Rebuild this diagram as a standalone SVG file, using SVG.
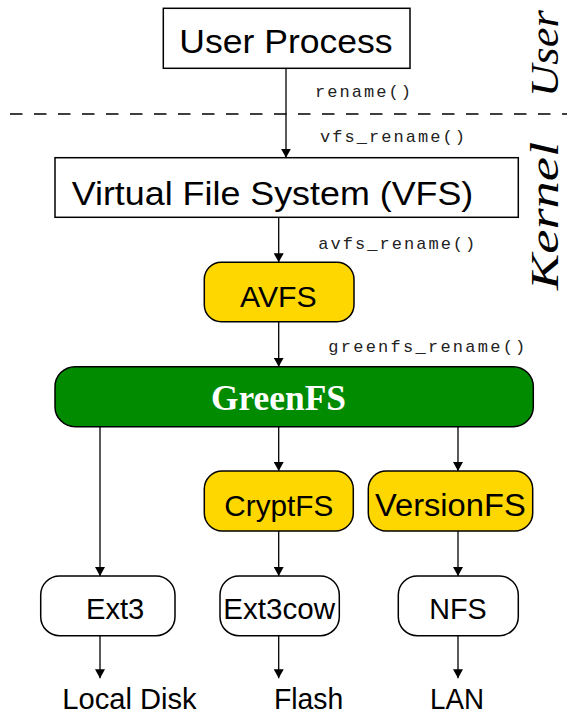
<svg xmlns="http://www.w3.org/2000/svg" width="567" height="715" viewBox="0 0 567 715">
<style>
.box{stroke:#000;stroke-width:1.5}
.plain{fill:#fff}
.gold{fill:#FFD700}
.green{fill:#008B00}
.lbl{font-family:"Liberation Sans",Arial,sans-serif;fill:#000}
.mono{font-family:"Liberation Mono","Courier New",monospace;font-size:17px;fill:#222}
.side{font-family:"Liberation Serif","Times New Roman",serif;font-style:italic;font-size:40px;fill:#000}
.edge{stroke:#000;stroke-width:1.3;fill:none;marker-end:url(#arr)}
</style>
<defs>
<marker id="arr" markerUnits="userSpaceOnUse" markerWidth="10" markerHeight="10" refX="9" refY="5" orient="auto">
<path d="M0,0 L9,5 L0,10 z" fill="#000"/>
</marker>
</defs>
<rect width="567" height="715" fill="#fff"/>
<line x1="0" y1="114" x2="567" y2="114" stroke="#000" stroke-width="1.3" stroke-dasharray="12.5 11.5" stroke-dashoffset="14"/>
<g id="side-labels">
<text class="side" transform="translate(558,97) rotate(-90)" textLength="87" lengthAdjust="spacingAndGlyphs">User</text>
<text class="side" transform="translate(558,290) rotate(-90)" textLength="148" lengthAdjust="spacingAndGlyphs">Kernel</text>
</g>
<g id="connectors">
<line class="edge" x1="286" y1="68.3" x2="286" y2="157.7"/>
<line class="edge" x1="278.7" y1="217.3" x2="278.7" y2="262.3"/>
<line class="edge" x1="278.7" y1="321.7" x2="278.7" y2="366.7"/>
<line class="edge" x1="100" y1="426.7" x2="100" y2="576"/>
<line class="edge" x1="278.7" y1="426.7" x2="278.7" y2="471"/>
<line class="edge" x1="458" y1="426.7" x2="458" y2="471"/>
<line class="edge" x1="278.7" y1="531" x2="278.7" y2="576"/>
<line class="edge" x1="458" y1="531" x2="458" y2="576"/>
<line class="edge" x1="100" y1="635.7" x2="100" y2="678.3"/>
<line class="edge" x1="278.7" y1="635.7" x2="278.7" y2="678.3"/>
<line class="edge" x1="458" y1="635.7" x2="458" y2="678.3"/>
<text class="mono" x="315" y="97" textLength="96" lengthAdjust="spacing">rename()</text>
<text class="mono" x="320" y="141.5" textLength="145" lengthAdjust="spacing">vfs_rename()</text>
<text class="mono" x="318.3" y="248.5" textLength="157" lengthAdjust="spacing">avfs_rename()</text>
<text class="mono" x="328.3" y="351.7" textLength="197" lengthAdjust="spacing">greenfs_rename()</text>
</g>
<g id="user-process">
<rect class="box plain" x="163.3" y="8.3" width="246.7" height="60"/>
<text class="lbl" x="179.3" y="53.3" font-size="33" textLength="213.3" lengthAdjust="spacingAndGlyphs">User Process</text>
</g>
<g id="vfs">
<rect class="box plain" x="55" y="157.7" width="463.3" height="59.6"/>
<text class="lbl" x="71.7" y="205" font-size="33" textLength="401.6" lengthAdjust="spacingAndGlyphs">Virtual File System (VFS)</text>
</g>
<g id="avfs">
<rect class="box gold" x="204.3" y="262.3" width="149.7" height="59.4" rx="17" ry="17"/>
<text class="lbl" x="240" y="306.7" font-size="30" textLength="76.7" lengthAdjust="spacingAndGlyphs">AVFS</text>
</g>
<g id="greenfs">
<rect class="box green" x="55" y="366.7" width="478.3" height="60" rx="20" ry="20"/>
<text x="211" y="410" font-family="'Liberation Serif','Times New Roman',serif" font-weight="bold" font-size="35" fill="#fff" textLength="135" lengthAdjust="spacingAndGlyphs">GreenFS</text>
</g>
<g id="cryptfs">
<rect class="box gold" x="204.3" y="471" width="149" height="60" rx="18" ry="18"/>
<text class="lbl" x="224.3" y="515.7" font-size="30" textLength="109" lengthAdjust="spacingAndGlyphs">CryptFS</text>
</g>
<g id="versionfs">
<rect class="box gold" x="368.3" y="471" width="164.4" height="60" rx="18" ry="18"/>
<text class="lbl" x="375" y="515.7" font-size="31" textLength="150.7" lengthAdjust="spacingAndGlyphs">VersionFS</text>
</g>
<g id="ext3">
<rect class="box plain" x="40.7" y="576" width="134.3" height="59.7" rx="19" ry="19"/>
<text class="lbl" x="86" y="619.3" font-size="29.5" textLength="58.3" lengthAdjust="spacingAndGlyphs">Ext3</text>
</g>
<g id="ext3cow">
<rect class="box plain" x="220" y="576" width="119.3" height="59.7" rx="19" ry="19"/>
<text class="lbl" x="223.3" y="619.3" font-size="29.5" textLength="111.7" lengthAdjust="spacingAndGlyphs">Ext3cow</text>
</g>
<g id="nfs">
<rect class="box plain" x="398.3" y="576" width="120" height="59.7" rx="19" ry="19"/>
<text class="lbl" x="429.3" y="619.3" font-size="29.5" textLength="57.4" lengthAdjust="spacingAndGlyphs">NFS</text>
</g>
<g id="local-disk">
<text class="lbl" x="62.3" y="709.3" font-size="29" textLength="134.4" lengthAdjust="spacingAndGlyphs">Local Disk</text>
</g>
<g id="flash">
<text class="lbl" x="274" y="709.3" font-size="29" textLength="69.3" lengthAdjust="spacingAndGlyphs">Flash</text>
</g>
<g id="lan">
<text class="lbl" x="430" y="709.3" font-size="29" textLength="54" lengthAdjust="spacingAndGlyphs">LAN</text>
</g>
</svg>
